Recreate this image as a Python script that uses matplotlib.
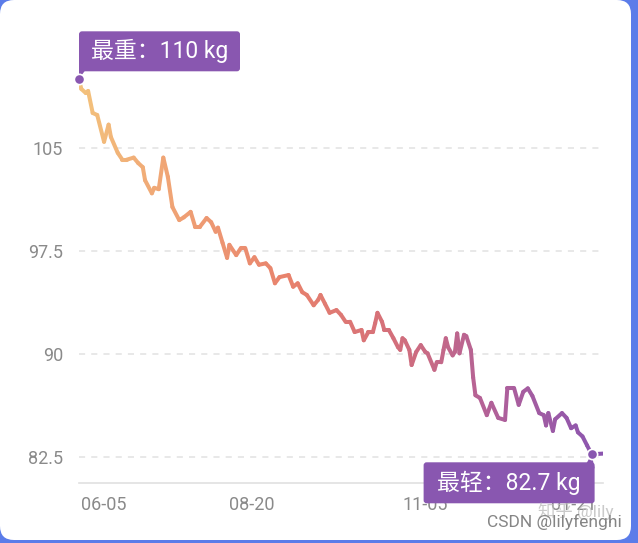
import numpy as np
import matplotlib.pyplot as plt
from matplotlib.collections import LineCollection
from matplotlib.colors import LinearSegmentedColormap
from matplotlib.patches import FancyBboxPatch, Polygon
from matplotlib.transforms import IdentityTransform

plt.rcParams["font.family"] = ["Roboto", "Noto Sans CJK SC", "DejaVu Sans"]

# weight records (kg), x is the record index along the axis
day_idx = [0, 1, 3, 4, 6, 8, 11, 13, 14, 17, 19, 21, 24, 26, 28, 29, 32, 33, 35, 37,
           39, 41, 44, 46, 49, 51, 53, 56, 58, 60, 61, 63, 65, 66, 69, 71, 73, 75, 77, 79,
           82, 84, 86, 88, 92, 94, 96, 98, 100, 103, 105, 106, 108, 110, 113, 115, 117, 119, 121, 124,
           125, 127, 129, 130, 131, 133, 134, 136, 138, 140, 141, 142, 143, 145, 146, 148, 150, 152, 153, 156,
           157, 159, 160, 161, 162, 164, 165, 166, 167, 169, 170, 172, 173, 174, 176, 179, 181, 184, 187, 188,
           191, 193, 195, 197, 199, 202, 204, 205, 206, 208, 209, 212, 214, 216, 218, 219, 221, 223, 225, 230]
weight = [110.0, 109.3, 109.0, 109.15, 107.55, 107.4, 105.45, 106.7, 105.8, 104.65, 104.15, 104.15, 104.3, 103.9, 103.6, 102.65, 101.7, 102.1, 102.0, 104.3,
          102.9, 100.7, 99.75, 99.95, 100.35, 99.25, 99.25, 99.9, 99.6, 98.9, 99.2, 98.1, 97.0, 97.95, 97.2, 97.7, 97.7, 96.6, 97.05, 96.5,
          96.6, 96.25, 95.15, 95.6, 95.75, 94.9, 95.15, 94.5, 94.3, 93.55, 93.95, 94.3, 93.65, 93.0, 93.2, 92.85, 92.35, 92.35, 91.6, 91.75,
          91.0, 91.6, 91.6, 92.25, 93.0, 92.35, 91.75, 91.75, 91.15, 90.5, 90.3, 91.15, 91.0, 90.3, 89.2, 90.15, 90.65, 90.15, 90.05, 88.85,
          89.4, 89.4, 90.3, 91.15, 90.5, 89.9, 90.15, 91.5, 90.05, 91.4, 91.3, 90.3, 88.3, 87.0, 86.8, 85.55, 86.45, 85.35, 85.2, 87.5,
          87.5, 86.3, 87.25, 87.5, 86.95, 85.7, 85.55, 84.8, 85.7, 84.4, 85.25, 85.7, 85.35, 84.6, 84.8, 84.3, 84.0, 83.35, 82.7, 82.75]

x_tick_pos = [11, 76, 152, 217]
x_tick_labels = ["06-05", "08-20", "11-05", "01-21"]
y_ticks = [82.5, 90, 97.5, 105]
y_tick_labels = ["82.5", "90", "97.5", "105"]

W, H = 638, 543
fig = plt.figure(figsize=(W / 100, H / 100), dpi=100, facecolor="#5b7ce9")

# white card on the blue background
card = FancyBboxPatch((0, 3), 631, 540, boxstyle="round,pad=0,rounding_size=14",
                      transform=IdentityTransform(), fc="white", ec="none", zorder=-10)
fig.add_artist(card)

ax = fig.add_axes([79 / W, 1 - 483 / H, (603 - 79) / W, (483 - 30) / H])
ax.patch.set_visible(False)
ax.set_xlim(0, 230)
ax.set_ylim(80.61, 113.59)

for yv in y_ticks:
    ax.axhline(yv, color="#e2e2e2", lw=1.1, ls=(0, (4, 4)), zorder=0.5)

for side in ["top", "right", "left"]:
    ax.spines[side].set_visible(False)
ax.spines["bottom"].set_color("#e0e0e0")
ax.spines["bottom"].set_linewidth(1.2)

ax.set_yticks(y_ticks, y_tick_labels)
ax.set_xticks(x_tick_pos, x_tick_labels)
ax.tick_params(axis="y", length=0, pad=11.5, labelsize=13, labelcolor="#8a8a8a")
ax.tick_params(axis="x", length=0, pad=9, labelsize=13, labelcolor="#8a8a8a")

# gradient line, orange -> purple along x
cmap = LinearSegmentedColormap.from_list(
    "wt", ["#f3c27c", "#ef9f74", "#e8826d", "#d46f7a", "#b0609a", "#8a55b0"])
pts = np.column_stack([day_idx, weight])
segs = np.stack([pts[:-1], pts[1:]], axis=1)
mid = (pts[:-1, 0] + pts[1:, 0]) / 2 / 230
lc = LineCollection(segs, colors=cmap(mid), linewidths=2.9,
                    capstyle="round", joinstyle="round", zorder=3)
ax.add_collection(lc)

i_max = int(np.argmax(weight))
i_min = int(np.argmin(weight))
box_color = "#8957b0"

ax.scatter([day_idx[i_max], day_idx[i_min]], [weight[i_max], weight[i_min]],
           s=55, color=box_color, edgecolor="white", linewidth=1.2,
           zorder=8, clip_on=False)

ident = IdentityTransform()

# label for max
px, py = ax.transData.transform((day_idx[i_max], weight[i_max]))
ax.add_patch(FancyBboxPatch((px, py + 8), 161, 40, boxstyle="round,pad=0,rounding_size=3",
                            transform=ident, fc=box_color, ec="none", zorder=6, clip_on=False))
ax.add_patch(Polygon([(px, py), (px, py + 14), (px + 10, py + 14)], closed=True,
                     transform=ident, fc=box_color, ec="none", zorder=6, clip_on=False))
ax.text(px + 80.5, py + 28, f"最重：{weight[i_max]:g} kg", transform=ident,
        ha="center", va="center", color="white", fontsize=16.5, zorder=7)

# label for min
px, py = ax.transData.transform((day_idx[i_min], weight[i_min]))
ax.add_patch(FancyBboxPatch((px + 3 - 171, py - 49), 171, 41, boxstyle="round,pad=0,rounding_size=3",
                            transform=ident, fc=box_color, ec="none", zorder=6, clip_on=False))
ax.add_patch(Polygon([(px, py), (px + 3, py - 14), (px - 8, py - 14)], closed=True,
                     transform=ident, fc=box_color, ec="none", zorder=6, clip_on=False))
ax.text(px + 3 - 85.5, py - 28.5, f"最轻：{weight[i_min]:g} kg", transform=ident,
        ha="center", va="center", color="white", fontsize=16.5, zorder=7)

# watermarks
fig.text(576 / W, 1 - 511 / H, "知乎 @lily", ha="center", va="center",
         fontsize=12.5, color="#bdbdbd", alpha=0.8, zorder=20)
fig.text(554 / W, 1 - 522 / H, "CSDN @lilyfenghi", ha="center", va="center",
         fontsize=12.5, color="#858585", zorder=21)

fig.savefig("out.png", dpi=100, facecolor=fig.get_facecolor())
